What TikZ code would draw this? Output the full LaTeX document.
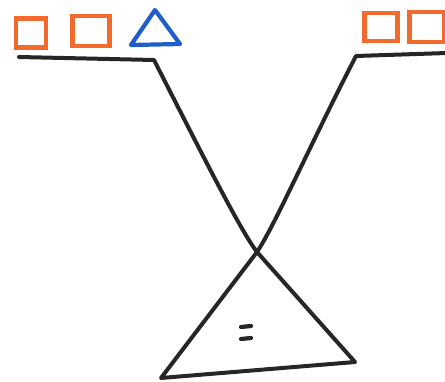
\documentclass[tikz,border=0pt]{standalone}
\usetikzlibrary{shapes.geometric}
\definecolor{sqor}{HTML}{F26A2C}
\definecolor{triblue}{HTML}{1E5DCC}
\begin{document}
\begin{tikzpicture}[x=1pt,y=-1pt,
  sq/.style={draw=sqor,line width=4.4pt,minimum width=30pt,minimum height=29pt,inner sep=0pt},
  ink/.style={draw=black!85,line width=4pt,line cap=round,line join=round},
  tri/.style={draw=triblue,line width=4.2pt,line join=round}]
\useasboundingbox (0,0) rectangle (445,381);
% left group
\node[sq] (s1) at (31,33) {};
\node[sq,minimum width=37pt,minimum height=30pt] (s2) at (91,31) {};
\coordinate (ta) at (155,10);
\coordinate (tb) at (131,45);
\coordinate (tc) at (180,44);
\draw[tri] (ta) -- (tb) -- (tc) -- cycle;
% right group
\node[sq,minimum width=33pt,minimum height=28pt] (s3) at (381,27) {};
\node[sq,minimum width=35pt,minimum height=30pt] (s4) at (427,27) {};
% platforms and crossing lines
\coordinate (pl0) at (19,57);
\coordinate (pl1) at (154,60);
\coordinate (pr0) at (356,56);
\coordinate (pr1) at (447,53);
\coordinate (x) at (257,252);
\coordinate (bl) at (161,378);
\coordinate (br) at (355,362);
\draw[ink] (pl0) -- (pl1) .. controls (200,150) and (240,230) .. (x) -- (br) -- (bl)
  -- (x) .. controls (275,225) and (310,145) .. (pr0) -- (pr1);
% equal marks
\coordinate (e1a) at (241,327);
\coordinate (e1b) at (251,326);
\coordinate (e2a) at (241,339);
\coordinate (e2b) at (251,338);
\draw[ink,line width=4.2pt] (e1a) -- (e1b);
\draw[ink,line width=4.2pt] (e2a) -- (e2b);
\end{tikzpicture}
\end{document}
